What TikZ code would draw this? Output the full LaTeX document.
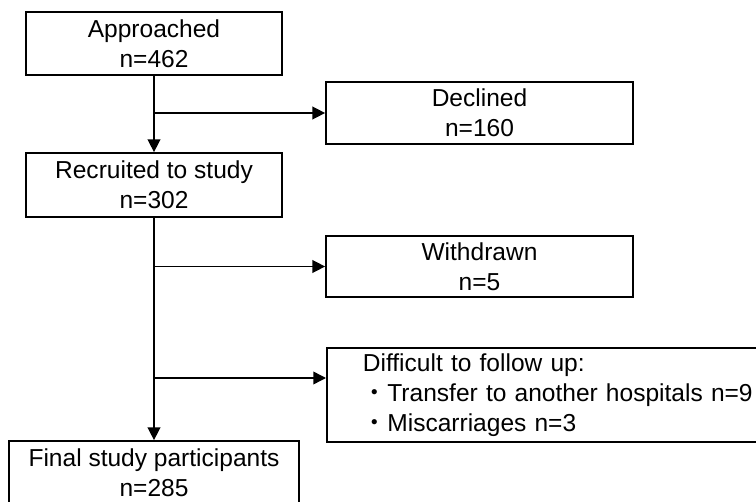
\documentclass[tikz,border=0pt]{standalone}
\usepackage{fontspec}
\setmainfont{Liberation Sans}
\newfontfamily\jpfont{Noto Sans CJK JP}
\usetikzlibrary{arrows.meta}

\begin{document}
\begin{tikzpicture}[x=0.75pt,y=-0.75pt,
    box/.style={draw,line width=1.3pt,align=center,inner sep=0pt,font=\fontsize{18.4}{22.5}\selectfont},
    flow/.style={line width=1.1pt,-{Triangle[length=9.5pt,width=9.5pt]}}]
    \clip (0,0) rectangle (756,502);
    \node[box,minimum width=192pt,minimum height=47.25pt] (appr) at (154,43.5) {Approached\\n=462};
    \node[box,minimum width=230.25pt,minimum height=46.5pt] (decl) at (479.5,113) {Declined\\n=160};
    \node[box,minimum width=192pt,minimum height=48pt] (recr) at (154,185) {Recruited to study\\n=302};
    \node[box,minimum width=230.25pt,minimum height=45.75pt] (wdr) at (479.5,266.5) {Withdrawn\\n=5};
    \node[box,anchor=west,align=left,text width=300pt,inner xsep=27pt,minimum height=70.5pt] (diff) at (326,395)
        {Difficult to follow up:\\{\jpfont ・}Transfer to another hospitals n=9\\{\jpfont ・}Miscarriages n=3};
    \node[box,minimum width=217.5pt,minimum height=48pt] (fin) at (154,473) {Final study participants\\n=285};
    \coordinate (j3) at (154,378);
    \draw[flow] (appr) -- (recr);
    \draw[flow] (appr.south |- decl.west) -- (decl.west);
    \draw[flow] (recr) -- (fin);
    \draw[flow] (recr.south |- wdr.west) -- (wdr.west);
    \draw[flow] (j3) -- (j3 -| diff.west);
\end{tikzpicture}
\end{document}
